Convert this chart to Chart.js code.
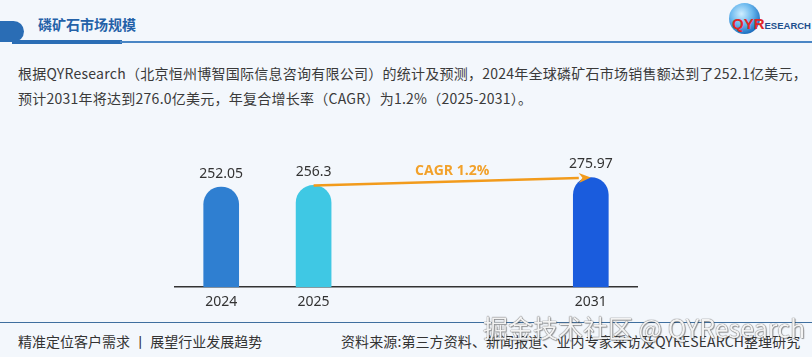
<!DOCTYPE html>
<html><head><meta charset="utf-8">
<script src="https://cdn.jsdelivr.net/npm/chart.js@4.4.1/dist/chart.umd.min.js"></script>
<style>
html,body{margin:0;padding:0;}
body{width:812px;height:357px;overflow:hidden;background:#f3f7fc;position:relative;font-family:"Noto Sans CJK SC","Noto Sans",sans-serif;color:#333;}
#hdrShape{position:absolute;left:0;top:21px;width:24px;height:21px;background:#2a6db5;border-radius:0 11px 11px 0;}
#hdrThick{position:absolute;left:12px;top:40px;width:110px;height:4px;background:#2a6db5;}
#hdrLine{position:absolute;left:120px;top:41px;width:692px;height:1.5px;background:#4a86c5;}
#title{position:absolute;left:38px;top:14px;font-size:14px;font-weight:bold;color:#2461a8;}
#logo{position:absolute;left:729px;top:3px;width:31px;height:31px;border-radius:50%;background:radial-gradient(circle at 40% 35%,#cfeeff 0%,#6ab8ee 40%,#1d6fc0 75%,#d43a3a 100%);}
#logoTxt{position:absolute;left:732px;top:15px;font-family:"Liberation Sans",Arial,sans-serif;font-weight:bold;font-size:13px;color:#1c4f8c;}
#logoTxt span{color:#e02727;font-size:15px;}
#logoTxt small{font-size:9.5px;}
#para{position:absolute;left:18px;top:61px;font-size:14px;line-height:25px;color:#3a3a3a;white-space:nowrap;letter-spacing:0.25px;}
#footLine{position:absolute;left:0;top:322px;width:812px;height:1px;background:#3f6f9f;}
#footL{position:absolute;left:18px;top:331px;font-size:14px;color:#333;white-space:nowrap;}
#footR{position:absolute;left:341px;top:331px;font-size:14px;color:#333;white-space:nowrap;letter-spacing:0.1px;}
#wm{position:absolute;left:483px;top:309px;font-size:25px;color:rgba(255,255,255,0.92);white-space:nowrap;text-shadow:0 0 1px #666,0 0 1px #666,1px 1px 1px rgba(0,0,0,0.35);}
#cv{position:absolute;left:0;top:0;}
</style></head>
<body>
<div id="hdrShape"></div><div id="hdrThick"></div><div id="hdrLine"></div>
<div id="title">磷矿石市场规模</div>
<div id="logo"></div>
<div id="logoTxt"><span>QYR</span><small>ESEARCH</small></div>
<div id="para">根据QYResearch（北京恒州博智国际信息咨询有限公司）的统计及预测，2024年全球磷矿石市场销售额达到了252.1亿美元，<br>预计2031年将达到276.0亿美元，年复合增长率（CAGR）为1.2%（2025-2031）。</div>
<div id="footLine"></div>
<div id="footL">精准定位客户需求 丨 展望行业发展趋势</div>
<div id="footR">资料来源:第三方资料、新闻报道、业内专家采访及QYRESEARCH整理研究</div>
<canvas id="cv" width="812" height="357"></canvas>
<div id="wm">掘金技术社区 @ QYResearch</div>
<script>
const categories = ['2024', '2025', '', '', '2031'];
const marketValues = [252.05, 256.3, null, null, 275.97];
const valueLabels = ['252.05', '256.3', '', '', '275.97'];
const barColors = ['#2f7fd1', '#3fc8e4', '#2f7fd1', '#2f7fd1', '#1a5cdd'];
const cagrText = 'CAGR 1.2%';
const cagrFrom = 1, cagrTo = 4;

const labelPlugin = {
  id: 'valLabels',
  afterDatasetsDraw(chart) {
    const ctx = chart.ctx;
    const meta = chart.getDatasetMeta(0);
    ctx.save();
    ctx.font = '14px "Noto Sans", "Open Sans", sans-serif';
    ctx.fillStyle = '#333';
    ctx.textAlign = 'center';
    ctx.textBaseline = 'middle';
    meta.data.forEach((el, i) => {
      if (marketValues[i] == null) return;
      ctx.fillText(valueLabels[i], el.x, el.y - 13.5);
    });
    const a = meta.data[cagrFrom], b = meta.data[cagrTo];
    const x1 = a.x, y1 = a.y, x2 = b.x, y2 = b.y;
    const ang = Math.atan2(y2 - y1, x2 - x1);
    const hl = 12, hw = 5;
    ctx.strokeStyle = '#f29b1c';
    ctx.fillStyle = '#f29b1c';
    ctx.lineWidth = 2.5;
    ctx.beginPath();
    ctx.moveTo(x1, y1);
    ctx.lineTo(x2 - hl * Math.cos(ang), y2 - hl * Math.sin(ang));
    ctx.stroke();
    ctx.beginPath();
    ctx.moveTo(x2, y2);
    ctx.lineTo(x2 - hl * Math.cos(ang) + hw * Math.sin(ang), y2 - hl * Math.sin(ang) - hw * Math.cos(ang));
    ctx.lineTo(x2 - hl * Math.cos(ang) * 0.7, y2 - hl * Math.sin(ang) * 0.7);
    ctx.lineTo(x2 - hl * Math.cos(ang) - hw * Math.sin(ang), y2 - hl * Math.sin(ang) + hw * Math.cos(ang));
    ctx.closePath();
    ctx.fill();
    ctx.font = 'bold 14px "Open Sans", "Noto Sans", sans-serif';
    ctx.fillStyle = '#f2a12a';
    ctx.textBaseline = 'middle';
    ctx.fillText(cagrText, (x1 + x2) / 2, Math.min(y1, y2) - 7);
    ctx.restore();
  }
};

new Chart(document.getElementById('cv'), {
  type: 'bar',
  data: {
    labels: categories,
    datasets: [{
      data: marketValues,
      backgroundColor: barColors,
      barThickness: 35,
      borderRadius: { topLeft: 18, topRight: 18, bottomLeft: 0, bottomRight: 0 },
      borderSkipped: 'bottom'
    }]
  },
  options: {
    responsive: false,
    animation: false,
    layout: { padding: { left: 175, right: 175, top: 141, bottom: 40 } },
    plugins: { legend: { display: false }, tooltip: { enabled: false } },
    scales: {
      x: {
        offset: true,
        grid: { display: false, drawTicks: false },
        border: { display: true, color: '#333', width: 1.5 },
        ticks: { color: '#333', font: { size: 14, family: '"Noto Sans", "Open Sans", sans-serif' }, padding: 6.5, autoSkip: false, maxRotation: 0 }
      },
      y: { display: false, min: 0, max: 368 }
    }
  },
  plugins: [labelPlugin]
});
</script>
</body></html>
